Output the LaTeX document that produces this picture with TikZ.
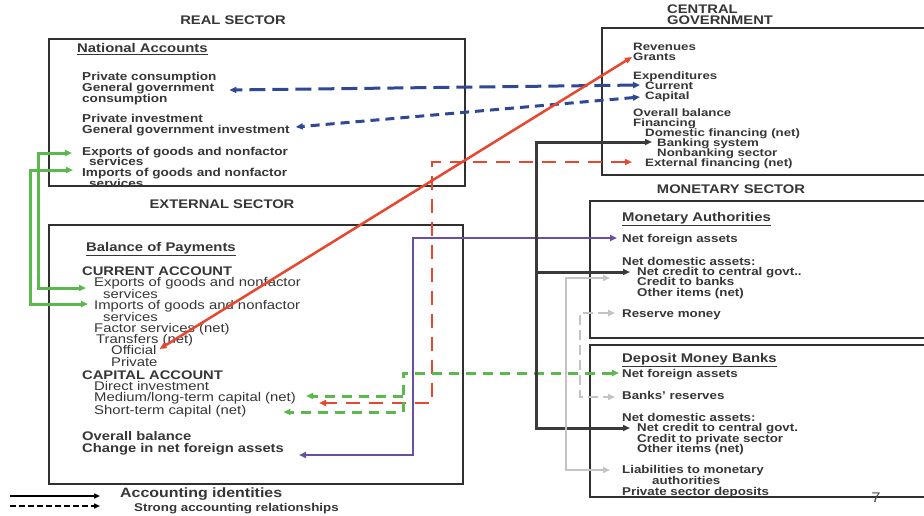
\documentclass[tikz,border=0pt]{standalone}
\usepackage{fontspec}
\setmainfont{Liberation Sans}[FakeStretch=1.18]
\newfontfamily\cgfont{Liberation Sans}[FakeStretch=1.24]
\usetikzlibrary{arrows.meta}
\definecolor{txtc}{HTML}{363636}
\definecolor{boxc}{HTML}{303030}
\definecolor{blu}{HTML}{2E4896}
\definecolor{redc}{HTML}{E8472E}
\definecolor{pur}{HTML}{6A4FA0}
\definecolor{grn}{HTML}{5BB84C}
\definecolor{blk}{HTML}{3A3A3A}
\definecolor{gry}{HTML}{C3C3C3}
\tikzset{
  every node/.style={inner sep=0pt, text=txtc},
  tx/.style={anchor=west, text height=9pt, text depth=0pt},
  txs/.style={anchor=west, text height=8.5pt, text depth=0pt},
  ttl/.style={font=\fontsize{12.5}{13}\selectfont\bfseries},
  hdr/.style={tx, font=\fontsize{12.6}{13}\selectfont\bfseries},
  na/.style={tx, font=\fontsize{11.5}{12}\selectfont\bfseries},
  bpr/.style={tx, font=\fontsize{12.6}{13}\selectfont},
  bpb/.style={tx, font=\fontsize{12.5}{13}\selectfont\bfseries},
  cg/.style={txs, font=\cgfont\fontsize{10.7}{11}\selectfont\bfseries},
  ms/.style={txs, font=\fontsize{11.3}{12}\selectfont\bfseries},
  boxline/.style={draw=boxc, line width=1.8pt},
  tipA/.style={>={Triangle[length=7pt,width=6pt]}},
  bluA/.style={draw=blu, line width=3pt, dash pattern=on 16pt off 7pt, tipA},
  bluB/.style={draw=blu, line width=3pt, dash pattern=on 9pt off 6pt, tipA},
  redS/.style={draw=redc, line width=2.5pt, tipA},
  redD/.style={draw=redc, line width=2.5pt, dash pattern=on 14pt off 9pt, tipA},
  purS/.style={draw=pur, line width=2.2pt, tipA},
  grnS/.style={draw=grn, line width=3pt, tipA},
  grnD/.style={draw=grn, line width=3pt, dash pattern=on 10pt off 7pt, tipA},
  blkS/.style={draw=blk, line width=3pt, tipA},
  gryS/.style={draw=gry, line width=2.5pt, tipA},
  gryD/.style={draw=gry, line width=2.5pt, dash pattern=on 10pt off 5pt, tipA},
  legS/.style={draw=black, line width=1.5pt, >={Triangle[length=6pt,width=5pt]}},
}
\begin{document}
\begin{tikzpicture}[x=1pt,y=-1pt]
\useasboundingbox (0,0) rectangle (924,515);
\fill[white] (0,0) rectangle (924,515);

% ---------- boxes ----------
\draw[boxline] (49,39) rectangle (465,186);
\draw[boxline] (49,225) rectangle (463,484);
\draw[boxline] (924,28) -| (602,175) -- (924,175);
\draw[boxline] (924,201) -| (590,338) -- (924,338);
\draw[boxline] (924,345) -| (590,497) -- (924,497);

% ---------- titles ----------
\node[ttl] (tReal) at (233,20) {REAL SECTOR};
\node[ttl] (tExt) at (222,204) {EXTERNAL SECTOR};
\node[ttl, anchor=west] (tCG1) at (667,9) {CENTRAL};
\node[ttl, anchor=west] (tCG2) at (667,20) {GOVERNMENT};
\node[ttl] (tMon) at (731,189) {MONETARY SECTOR};

% ---------- National Accounts ----------
\node[hdr] (nah) at (77,48) {\underline{National Accounts}};
\node[na] (na1) at (82,76) {Private consumption};
\node[na] (na2) at (82,87) {General government};
\node[na] (na3) at (82,98) {consumption};
\node[na] (na4) at (82,118) {Private investment};
\node[na] (na5) at (82,129) {General government investment};
\node[na] (na6) at (82,151) {Exports of goods and nonfactor};
\node[na] (na7) at (89,161) {services};
\node[na] (na8) at (82,172) {Imports of goods and nonfactor};
\node[na] (na9) at (89,183) {services};

% ---------- Balance of Payments ----------
\node[hdr] (bph) at (86,247) {\underline{Balance of Payments}};
\node[bpb] (bp1) at (82,271) {CURRENT ACCOUNT};
\node[bpr] (bp2) at (94,282) {Exports of goods and nonfactor};
\node[bpr] (bp3) at (103,294) {services};
\node[bpr] (bp4) at (94,305) {Imports of goods and nonfactor};
\node[bpr] (bp5) at (103,317) {services};
\node[bpr] (bp6) at (94,328) {Factor services (net)};
\node[bpr] (bp7) at (96,339) {Transfers (net)};
\node[bpr] (bp8) at (111,350) {Official};
\node[bpr] (bp9) at (111,362) {Private};
\node[bpb] (bp10) at (82,375) {CAPITAL ACCOUNT};
\node[bpr] (bp11) at (94,386) {Direct investment};
\node[bpr] (bp12) at (94,397) {Medium/long-term capital (net)};
\node[bpr] (bp13) at (94,410) {Short-term capital (net)};
\node[bpb] (bp14) at (82,436) {Overall balance};
\node[bpb] (bp15) at (82,448) {Change in net foreign assets};

% ---------- Central Government ----------
\node[cg] (cg1) at (633,46) {Revenues};
\node[cg] (cg2) at (633,56) {Grants};
\node[cg] (cg3) at (633,75) {Expenditures};
\node[cg] (cg4) at (645,85) {Current};
\node[cg] (cg5) at (645,95) {Capital};
\node[cg] (cg6) at (633,112.5) {Overall balance};
\node[cg] (cg7) at (633,122) {Financing};
\node[cg] (cg8) at (645,132) {Domestic financing (net)};
\node[cg] (cg9) at (657,142) {Banking system};
\node[cg] (cg10) at (657,152) {Nonbanking sector};
\node[cg] (cg11) at (645,162) {External financing (net)};

% ---------- Monetary Authorities ----------
\node[hdr] (mah) at (622,217) {\underline{Monetary Authorities}};
\node[ms] (ma1) at (622,238) {Net foreign assets};
\node[ms] (ma2) at (622,261) {Net domestic assets:};
\node[ms] (ma3) at (637,271) {Net credit to central govt..};
\node[ms] (ma4) at (637,281.5) {Credit to banks};
\node[ms] (ma5) at (637,292) {Other items (net)};
\node[ms] (ma6) at (622,313) {Reserve money};

% ---------- Deposit Money Banks ----------
\node[hdr] (dh) at (622,358) {\underline{Deposit Money Banks}};
\node[ms] (d1) at (622,373) {Net foreign assets};
\node[ms] (d2) at (622,395) {Banks' reserves};
\node[ms] (d3) at (622,417) {Net domestic assets:};
\node[ms] (d4) at (637,427.5) {Net credit to central govt.};
\node[ms] (d5) at (637,438) {Credit to private sector};
\node[ms] (d6) at (637,448.5) {Other items (net)};
\node[ms] (d7) at (622,469) {Liabilities to monetary};
\node[ms] (d8) at (652,480) {authorities};
\node[ms] (d9) at (622,491) {Private sector deposits};

\node[font=\fontsize{14}{14}\selectfont, text=txtc!90] (pg) at (876,498) {7};

% ---------- legend ----------
\node[tx, font=\fontsize{13.5}{14}\selectfont\bfseries] (leg1) at (120,493) {Accounting identities};
\node[tx, font=\fontsize{11.3}{12}\selectfont\bfseries] (leg2) at (134,507) {Strong accounting relationships};
\coordinate (la) at (10,496);
\coordinate (lb) at (10,506);
\draw[legS,->] (la) -- ([shift={(-20,3)}]leg1.west);
\draw[legS,->, dash pattern=on 6pt off 3pt] (lb) -- ([shift={(-34,-1)}]leg2.west);

% ---------- connectors ----------
% green solid (exports / imports)
\draw[grnS,<->] ([shift={(-10,2)}]na6.west) -- ++(-34,0) |- ([shift={(-8,6)}]bp2.west);
\draw[grnS,<->] ([shift={(-9,-2)}]na8.west) -- ++(-43,0) |- ([shift={(-6,-1)}]bp4.west);

% blue dashed
\draw[bluA,<->] ([xshift=-5pt]cg4.west) -- ([shift={(15,3)}]na2.east);
\draw[bluB,<->] ([shift={(-5,2)}]cg5.west) -- ([shift={(6,-2)}]na5.east);

% red
\draw[redS,<->] ([shift={(-1,1)}]cg2.west) -- ([shift={(3,-1)}]bp8.east);
\draw[redD,<->] ([xshift=-13pt]cg11.west) -| (432,403) -- ([shift={(23,6)}]bp12.east);

% purple
\draw[purS,<->] ([xshift=-5pt]ma1.west) -| (413,455) -- ([shift={(15,7)}]bp15.east);

% green dashed
\coordinate (gj) at (403,396);
\draw[grnD,<->] ([xshift=-3pt]d1.west) -| (403,412) -- ([shift={(37,2)}]bp13.east);
\draw[grnD,->] (gj) -- ([shift={(10,-1)}]bp12.east);

% black
\coordinate (bj) at (536,272);
\draw[blkS,<->] ([xshift=-5pt]cg9.west) -| (536,428) -- ([shift={(-7,0.5)}]d4.west);
\draw[blkS,->] (bj) -- ([shift={(-7,1)}]ma3.west);

% gray
\draw[gryS,<->] ([shift={(-27,-3.5)}]ma4.west) -| (566,470) -- ([shift={(-12,1)}]d7.west);
\draw[gryD,<->] ([xshift=-7pt]ma6.west) -| (580,397) -- ([shift={(-7,2)}]d2.west);
\end{tikzpicture}
\end{document}
